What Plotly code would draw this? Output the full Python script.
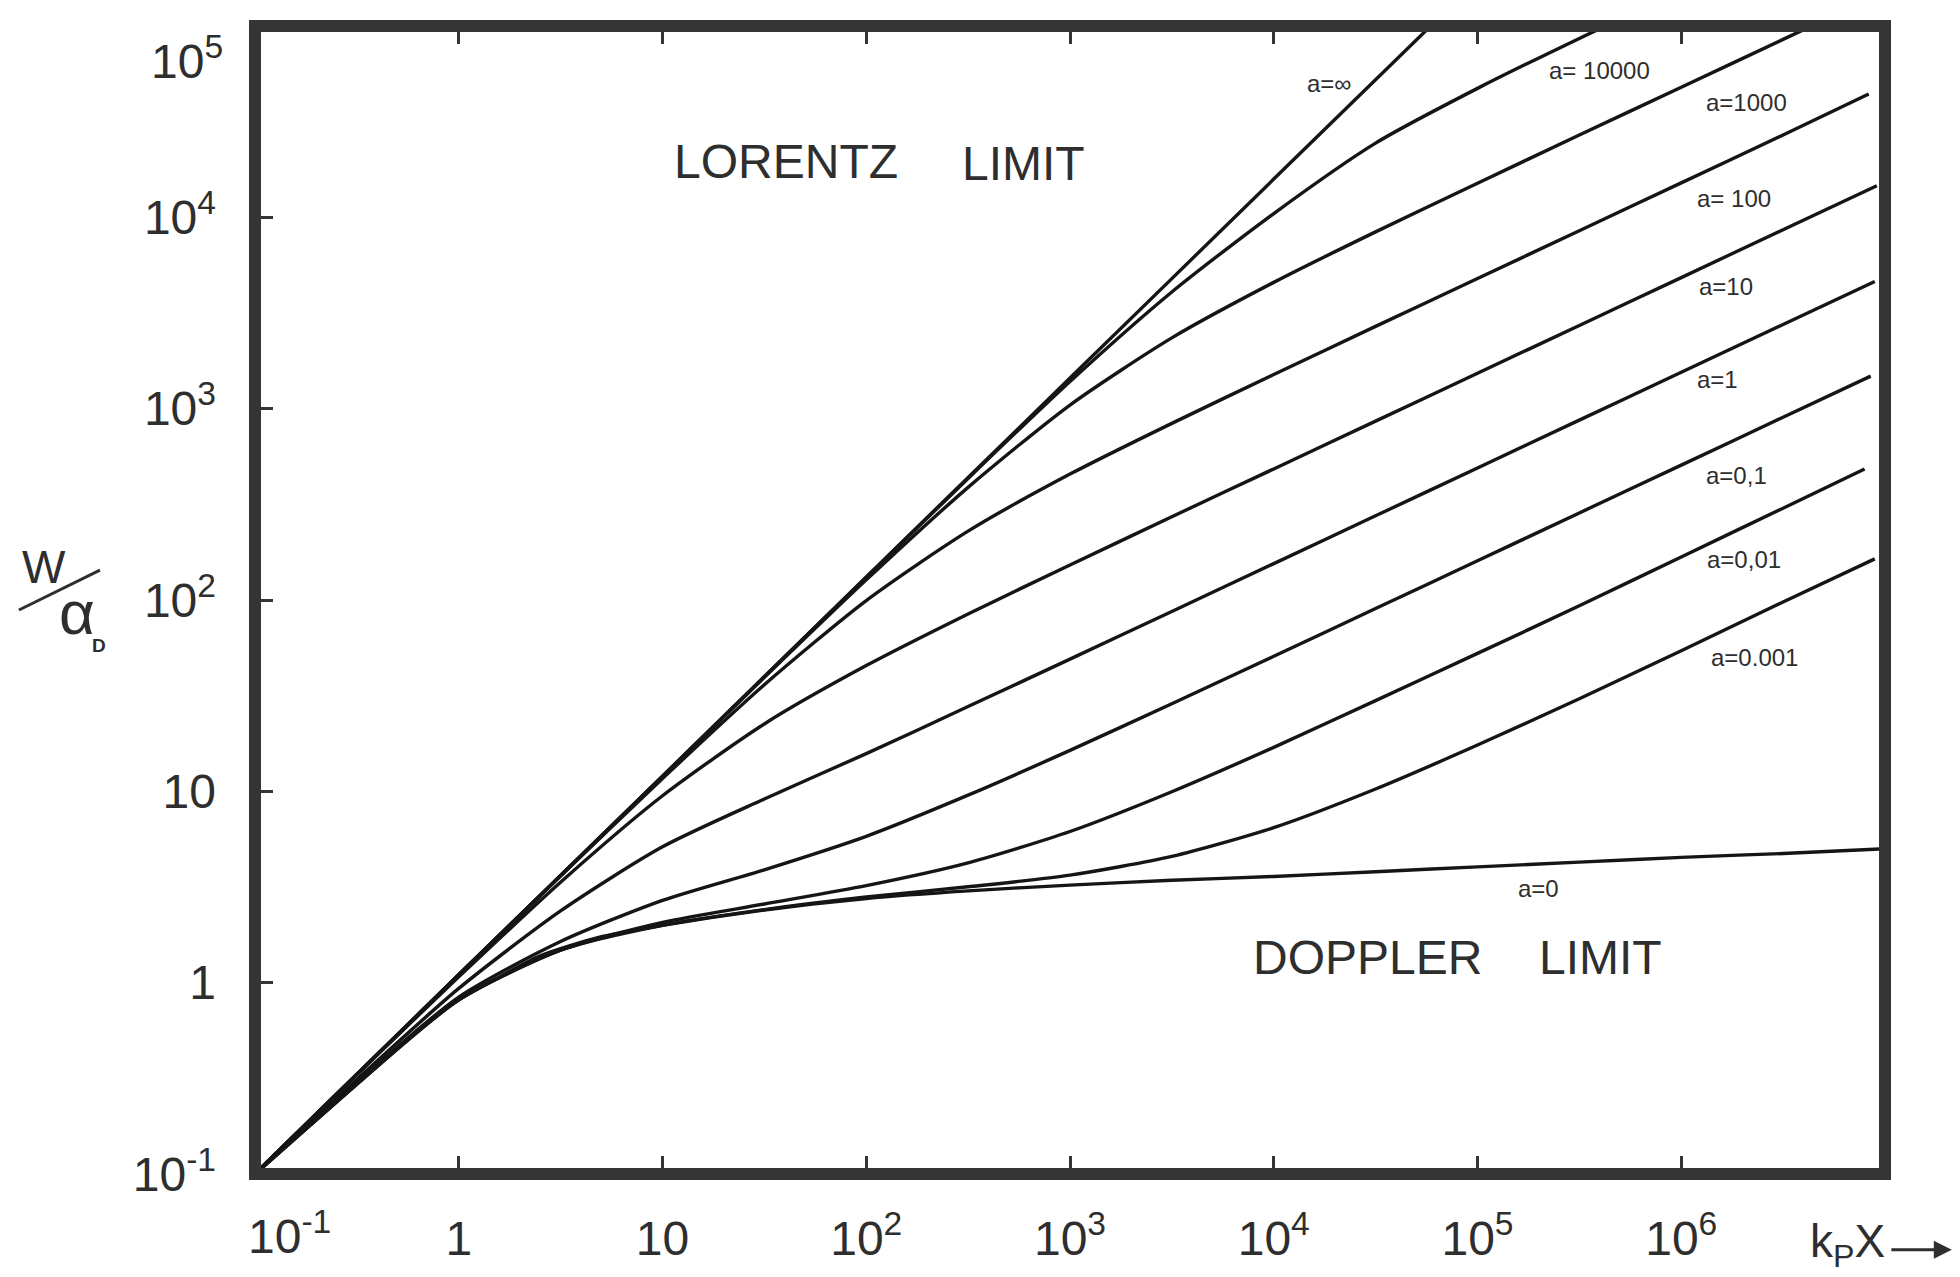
import plotly.graph_objects as go

# Curves of growth: W/alpha_D against k_P X for several damping constants a.
# Each curve: k_P X values and the matching W/alpha_D values.
kpx_half = [0.1, 0.316, 1, 3.16, 10, 31.6, 100, 316, 1e3, 3.16e3,
            1e4, 3.16e4, 1e5, 3.16e5, 1e6, 3.16e6]

kpx_inf = [0.1, 1, 10, 100, 1e3, 1e4, 7.08e4]
w_inf = [0.1, 1.10, 12.0, 132, 1445, 15850, 121000]

kpx_a1e4 = [0.1, 1, 10, 100, 316, 1e3, 3.16e3, 1e4, 3.16e4, 1e5, 3.16e5, 5.01e5]
w_a1e4 = [0.1, 1.10, 12.0, 131, 432, 1387, 4074, 10470, 24430, 47210, 86100, 108400]

kpx_a1e3 = [0.1, 1, 10, 31.6, 100, 316, 1e3, 3.16e3, 1e4, 3.16e4, 1e5, 3.16e5,
            1e6, 3.16e6, 5.01e6]
w_a1e3 = [0.1, 1.10, 11.97, 39.4, 127.4, 388, 1045, 2344, 4571, 8395, 15070,
          26920, 47860, 85110, 107200]

kpx_a100 = [0.1, 1, 3.16, 10, 31.6, 100, 316, 1e3, 3.16e3, 1e4, 3.16e4, 1e5,
            3.16e5, 1e6, 3.16e6, 8.32e6]
w_a100 = [0.1, 1.10, 3.61, 11.67, 36.06, 99.3, 229, 455, 838, 1507, 2692, 4786,
          8511, 15140, 26920, 44160]

kpx_a10 = kpx_half + [9.12e6]
w_a10 = [0.1, 0.331, 1.072, 3.35, 9.48, 22.5, 45.4, 84.5, 152.4, 272.3, 484.2,
         861, 1531, 2723, 4842, 8610, 14620]

kpx_a1 = kpx_half + [8.91e6]
w_a1 = [0.1, 0.312, 0.933, 2.371, 5.13, 9.12, 15.74, 27.73, 49.09, 87.1, 154.9,
        275.4, 489.8, 871, 1549, 2754, 4624]

kpx_a01 = kpx_half + [8.51e6]
w_a01 = [0.1, 0.302, 0.841, 1.641, 2.692, 3.89, 5.82, 9.55, 16.37, 28.71, 50.8,
         90.2, 160.3, 285.1, 507, 901.6, 1479]

kpx_a001 = kpx_half + [7.94e6]
w_a001 = [0.1, 0.295, 0.813, 1.479, 2.065, 2.576, 3.214, 4.227, 6.166, 9.954,
          16.98, 29.79, 52.6, 93.3, 167.9, 302, 484.2]

kpx_a0001 = kpx_half + [8.91e6]
w_a0001 = [0.1, 0.295, 0.813, 1.479, 1.995, 2.41, 2.805, 3.17, 3.648, 4.571,
           6.457, 10.28, 17.46, 30.48, 54.33, 97.7, 164.1]

kpx_a0 = [0.1, 0.316, 0.631, 1, 1.585, 2.512, 5.012, 10, 31.6, 100, 316, 1e3,
          3.16e3, 1e4, 3.16e4, 1e5, 3.16e5, 1e6, 3.16e6, 1e7]
w_a0 = [0.1, 0.295, 0.562, 0.813, 1.072, 1.380, 1.738, 1.995, 2.399, 2.754,
        3.020, 3.236, 3.428, 3.589, 3.802, 4.027, 4.266, 4.519, 4.732, 5.012]

curves = [
    (kpx_inf, w_inf), (kpx_a1e4, w_a1e4), (kpx_a1e3, w_a1e3), (kpx_a100, w_a100),
    (kpx_a10, w_a10), (kpx_a1, w_a1), (kpx_a01, w_a01), (kpx_a001, w_a001),
    (kpx_a0001, w_a0001), (kpx_a0, w_a0),
]

# Curve labels with their positions (log10 k_P X, log10 W/alpha_D)
label_text = ["a=\u221e", "a= 10000", "a=1000", "a= 100", "a=10", "a=1",
              "a=0,1", "a=0,01", "a=0.001", "a=0"]
label_x = [4.27, 5.60, 6.32, 6.26, 6.22, 6.18, 6.27, 6.31, 6.36, 5.30]
label_y = [4.70, 4.77, 4.60, 4.10, 3.64, 3.15, 2.65, 2.21, 1.70, 0.49]

x_tickvals = [0.1, 1, 10, 100, 1e3, 1e4, 1e5, 1e6]
x_ticktext = ["", "1", "10", "10<sup>2</sup>", "10<sup>3</sup>",
              "10<sup>4</sup>", "10<sup>5</sup>", "10<sup>6</sup>"]
x_first_label = "10<sup>-1</sup>"
y_tickvals = [0.1, 1, 10, 100, 1e3, 1e4]
y_ticktext = ["10<sup>-1</sup>", "1", "10", "10<sup>2</sup>", "10<sup>3</sup>",
              "10<sup>4</sup>"]
y_top_label = "10<sup>5</sup>"

INK = "#151515"
FRAME = "#353535"
TEXT = "#2e2e2e"
FONT = "Liberation Sans"
TICK_SIZE = 48

fig = go.Figure()
for kpx, w in curves:
    fig.add_trace(go.Scatter(
        x=kpx, y=w, mode="lines",
        line=dict(color=INK, width=3.4, shape="spline", smoothing=0.7),
        hoverinfo="skip", showlegend=False,
    ))

fig.update_xaxes(
    type="log", range=[-1, 7],
    tickvals=x_tickvals, ticktext=x_ticktext,
    ticks="inside", ticklen=18, tickwidth=3, tickcolor=FRAME,
    mirror="ticks", showline=False, showgrid=False, zeroline=False,
    tickfont=dict(family=FONT, size=TICK_SIZE, color=TEXT),
    ticklabelstandoff=32,
)
fig.update_yaxes(
    type="log", range=[-1, 5],
    tickvals=y_tickvals, ticktext=y_ticktext,
    ticks="inside", ticklen=18, tickwidth=3, tickcolor=FRAME,
    showline=False, showgrid=False, zeroline=False,
    tickfont=dict(family=FONT, size=TICK_SIZE, color=TEXT),
    ticklabelstandoff=38,
)

# Heavy frame round the plotting area
fig.add_shape(type="rect", xref="paper", yref="paper", x0=0, x1=1, y0=0, y1=1,
              line=dict(color=FRAME, width=12), layer="above")


def note(x, y, text, size, xref="paper", yref="paper", xanchor="center"):
    return dict(x=x, y=y, xref=xref, yref=yref, text=text, showarrow=False,
                xanchor=xanchor, yanchor="middle",
                font=dict(family=FONT, size=size, color=TEXT))


annotations = []
for t, lx, ly in zip(label_text, label_x, label_y):
    annotations.append(note(lx, ly, t, 24, xref="x", yref="y"))

# Region names
for t, lx, ly in [("LORENTZ", 1.605, 4.29), ("LIMIT", 2.774, 4.28),
                  ("DOPPLER", 4.459, 0.13), ("LIMIT", 5.604, 0.13)]:
    annotations.append(note(lx, ly, t, 48, xref="x", yref="y"))

# Corner labels: top of the W axis and start of the k_P X axis
annotations.append(note(-0.0184, 0.972, y_top_label, TICK_SIZE, xanchor="right"))
annotations.append(note(0.0209, -0.0515, x_first_label, TICK_SIZE))

# Axis titles
annotations += [
    note(-0.1294, 0.5286, "W", 46),
    note(-0.1090, 0.4890, "\u03b1", 62),
    note(-0.0960, 0.4600, "<b>D</b>", 19),
    note(0.9770, -0.0615, "k<sub>P</sub>X", 46),
    dict(x=1.0410, y=-0.0660, xref="paper", yref="paper", text="",
         showarrow=True, ax=-62, ay=0, arrowhead=2, arrowsize=1.2,
         arrowwidth=3, arrowcolor=TEXT),
]
fig.add_shape(type="line", xref="paper", yref="paper",
              x0=-0.1448, y0=0.4913, x1=-0.0951, y1=0.5260,
              line=dict(color=TEXT, width=3))

fig.update_layout(
    width=1960, height=1277,
    margin=dict(l=255, r=75, t=26, b=99),
    paper_bgcolor="white", plot_bgcolor="white",
    annotations=annotations,
    showlegend=False,
)

fig.write_html("out.html")
